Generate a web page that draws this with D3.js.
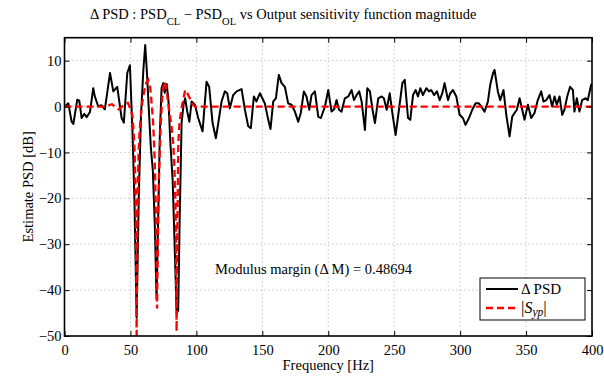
<!DOCTYPE html>
<html><head><meta charset="utf-8">
<script src="https://cdn.jsdelivr.net/npm/d3@7"></script>
<style>body{margin:0;background:#fff}svg{display:block}text{font-family:"Liberation Serif","Times New Roman",Times,serif}</style>
</head><body><svg id="c" width="604" height="379"></svg>
<script>
// Data
const freqPSD = [0,2.9,5.4,6.7,9.7,11.2,13,15,16.8,19.3,21.8,23,25.6,28,30.6,34.5,37,40,43.3,45,47.6,49.6,51.5,53,54.7,56.3,58,59.8,61.2,62.6,64,65.5,67,68.5,69.8,71,72.3,73.6,74.9,76,77.5,78.8,80.3,82,83.5,85,86.2,87.3,88.8,90.3,91.5,93,94.7,96.4,98.9,101.4,104.7,107.7,109.7,112.3,114.8,116.6,119.1,121.6,123.4,125.4,127.9,130.5,134.3,136.8,139.3,141.3,143.6,145.6,148.2,150,151.9,154.5,156.2,158.3,160.3,162.5,164.6,167.1,169.6,172.2,174.7,177.2,179.2,181.5,183.5,185.6,187.3,189.9,192.4,194.4,197.5,200,202.5,204.5,206.3,208.1,210.1,212.6,215.2,217.7,219.5,221.5,223.5,225.3,227.8,229.6,231.6,233.6,235.4,237.9,240.5,242.2,244.3,246.6,248.6,251.1,253.6,256.2,258,260.5,262.2,264.3,266.3,268,269.8,271.8,274.4,276.4,278.1,280.2,282.4,284.5,286.5,288.2,290.8,292.5,294.6,297.1,299.6,302.1,304.1,306.7,309.2,311.7,314.2,316,318.5,321.1,322.8,324.9,326.1,328.6,330.4,332.9,335,337.5,339.5,341.3,343,345.1,347.1,348.8,351.4,353.9,356.4,358.9,361.5,363.2,365.3,367.8,369.8,371.6,373.3,375.4,377.4,379.1,381.2,383.4,385.5,386.7,388.5,390.5,392.5,395,396.8,399.3,400];
const deltaPSD = [0,0.7,-3.3,-3.8,1.5,1.3,-2.5,-1.6,-2.3,-1.2,4,2.2,0,0.3,-0.6,7.3,3.3,4.3,-2.5,-3.5,7.3,9,-5,-20,-46,-20,-2,8,13.4,7,-1,-9,-14,-26,-42,-25,-6,4,5.1,3,4.9,1.5,-8,-16,-30,-45,-44.5,-25,-3.5,0.5,1.8,-1,-3.3,1.1,0.4,-2.5,-5.4,5.4,4.3,-3.6,-6.9,-3.6,1.1,3.3,2.9,-0.4,2.5,3.3,3.8,-0.7,-4.3,-4.7,2.2,1.1,2.9,1.8,0.7,-2.9,-4.9,1.1,1.8,6.9,5.1,4.3,0.7,0.4,-1.1,-3.3,-1.4,3.3,2.2,-0.7,2.5,3.3,-2.2,-2.5,0,3.6,-1.1,-0.6,1.4,-0.7,-1.1,1.8,2.2,3.6,1.4,2.5,3.3,1.1,-5.1,4,3.3,-0.7,-3.6,1.8,2.2,1.8,-0.7,2.9,-1.4,-6.2,-0.7,5.1,5.8,-2.5,-2.9,2.5,3.6,2.2,4,2.5,4,3.3,3.6,2.5,3.3,1.4,2.9,5.1,1.4,2.9,3.6,2.2,-1.8,-2.5,-4,-2.5,-0.7,0.7,0.7,0,-1.1,1.1,4.7,7.2,8,3.3,1.4,3.6,-1.8,-6.5,-2.2,-1.4,-0.7,1.8,-0.7,-2.9,0.4,-2.5,-1.4,1.4,3.3,1.1,1.4,2.5,0,2.2,0.4,2.2,-1.8,-0.7,2.2,4.3,3.6,-1.1,1.8,-1.1,1.4,1.8,1.4,4.7,5];
const freqSyp = [0,20,30,36,41,46,48,50,51.5,52.5,53.2,53.7,54.1,54.4,54.7,55.0,55.3,55.7,56.2,57,58.5,60.5,62,63.5,65,66.3,67.3,68.2,68.8,69.3,69.8,70.2,70.6,71.1,71.6,72.2,73,74,75.5,77,78.5,80,81.2,82.4,83.2,83.9,84.5,85,85.6,86.3,87,87.7,88.7,90,91.5,93,95,97,100,104,400];
const sypMag = [0,0,0,0.5,-0.6,0.5,0.8,-0.5,-2,-6,-10,-16,-24,-34,-52,-34,-24,-16,-10,-5,0,3.5,5.2,5.8,4.2,0,-4,-10,-16,-24,-33,-44,-33,-24,-16,-10,-4,1.5,5.4,4.5,1,-2,-4.4,-8,-12,-18,-27,-49,-27,-8,-4.4,-2.5,-0.5,1.5,3.6,3,1.8,0.5,-0.2,0,0];
const xTicks = [0,50,100,150,200,250,300,350,400];
const yTicks = [-50,-40,-30,-20,-10,0,10];
const legendLabels = ["\u0394 PSD","|Syp|"];

const svg = d3.select("#c");
const L=64.5, R=592, T=37.7, B=336;
const x = d3.scaleLinear().domain([0,400]).range([L,R]);
const y = d3.scaleLinear().domain([-50,15]).range([B,T]);

// grid
const g = svg.append("g");
g.selectAll(".gx").data(xTicks.slice(1,-1)).enter().append("line")
  .attr("x1",d=>x(d)).attr("x2",d=>x(d)).attr("y1",T).attr("y2",B)
  .attr("stroke","#999").attr("stroke-width",0.8).attr("stroke-dasharray","1,3");
g.selectAll(".gy").data(yTicks.slice(1)).enter().append("line")
  .attr("y1",d=>y(d)).attr("y2",d=>y(d)).attr("x1",L).attr("x2",R)
  .attr("stroke","#999").attr("stroke-width",0.8).attr("stroke-dasharray","1,3");

// clip
svg.append("clipPath").attr("id","clip").append("rect").attr("x",L).attr("y",T).attr("width",R-L).attr("height",B-T);

const line = d3.line().x(d=>x(d[0])).y(d=>y(d[1]));
svg.append("path").attr("clip-path","url(#clip)")
  .attr("d",line(freqPSD.map((f,i)=>[f,deltaPSD[i]])))
  .attr("fill","none").attr("stroke","#000").attr("stroke-width",2).attr("stroke-linejoin","round");
svg.append("path").attr("clip-path","url(#clip)")
  .attr("d",line(freqSyp.map((f,i)=>[f,sypMag[i]])))
  .attr("fill","none").attr("stroke","#f00").attr("stroke-width",2.3).attr("stroke-dasharray","7,4");

// axes
const tl = 5;
const fmt = d=> d<0 ? "\u2212"+Math.abs(d) : ""+d;
svg.append("g").attr("transform",`translate(0,${B})`)
  .call(d3.axisBottom(x).tickValues(xTicks).tickSizeInner(-tl).tickSizeOuter(0).tickPadding(9).tickFormat(fmt));
svg.append("g").attr("transform",`translate(0,${T})`)
  .call(d3.axisTop(x).tickValues(xTicks).tickSizeInner(-tl).tickSizeOuter(0).tickFormat(""));
svg.append("g").attr("transform",`translate(${L},0)`)
  .call(d3.axisLeft(y).tickValues(yTicks).tickSizeInner(-tl).tickSizeOuter(0).tickPadding(3).tickFormat(fmt));
svg.append("g").attr("transform",`translate(${R},0)`)
  .call(d3.axisRight(y).tickValues(yTicks).tickSizeInner(-tl).tickSizeOuter(0).tickFormat(""));
svg.selectAll(".domain").remove();
svg.selectAll("g").attr("font-family",null);
svg.selectAll(".tick line").attr("stroke","#000").attr("stroke-width",1);
svg.selectAll(".tick text").attr("font-size",14.5).attr("fill","#000");
svg.append("rect").attr("x",L).attr("y",T).attr("width",R-L).attr("height",B-T)
  .attr("fill","none").attr("stroke","#000").attr("stroke-width",1.6);

// labels
svg.append("text").attr("x",(L+R)/2).attr("y",370).attr("text-anchor","middle").attr("font-size",14.5).text("Frequency [Hz]");
svg.append("text").attr("transform",`translate(33,${(T+B)/2}) rotate(-90)`).attr("text-anchor","middle").attr("font-size",14.5).text("Estimate PSD [dB]");

// title
const t = svg.append("text").attr("x",90).attr("y",19).attr("font-size",14.5);
t.append("tspan").text("\u0394 PSD : PSD");
t.append("tspan").attr("dy",6).attr("font-size",10.5).text("CL");
t.append("tspan").attr("dy",-6).text(" \u2212 PSD");
t.append("tspan").attr("dy",6).attr("font-size",10.5).text("OL");
t.append("tspan").attr("dy",-6).text(" vs Output sensitivity function magnitude");

// annotation
svg.append("text").attr("x",215).attr("y",274).attr("font-size",14.5).text("Modulus margin (\u0394 M) = 0.48694");

// legend
const lg = svg.append("g");
lg.append("rect").attr("x",480).attr("y",278).attr("width",105).attr("height",42).attr("fill","#fff").attr("stroke","#000").attr("stroke-width",1);
lg.append("line").attr("x1",486).attr("x2",518).attr("y1",289).attr("y2",289).attr("stroke","#000").attr("stroke-width",2);
lg.append("line").attr("x1",486).attr("x2",518).attr("y1",308).attr("y2",308).attr("stroke","#f00").attr("stroke-width",2.3).attr("stroke-dasharray","7,4");
lg.append("text").attr("x",521).attr("y",294).attr("font-size",15).text(legendLabels[0]);
const t2 = lg.append("text").attr("x",521).attr("y",313).attr("font-size",16);
t2.append("tspan").attr("font-size",17).text("|");
t2.append("tspan").attr("font-style","italic").text("S");
t2.append("tspan").attr("font-style","italic").attr("font-size",11.5).attr("dy",3).text("yp");
t2.append("tspan").attr("dy",-3).attr("font-size",17).text("|");
</script></body></html>
